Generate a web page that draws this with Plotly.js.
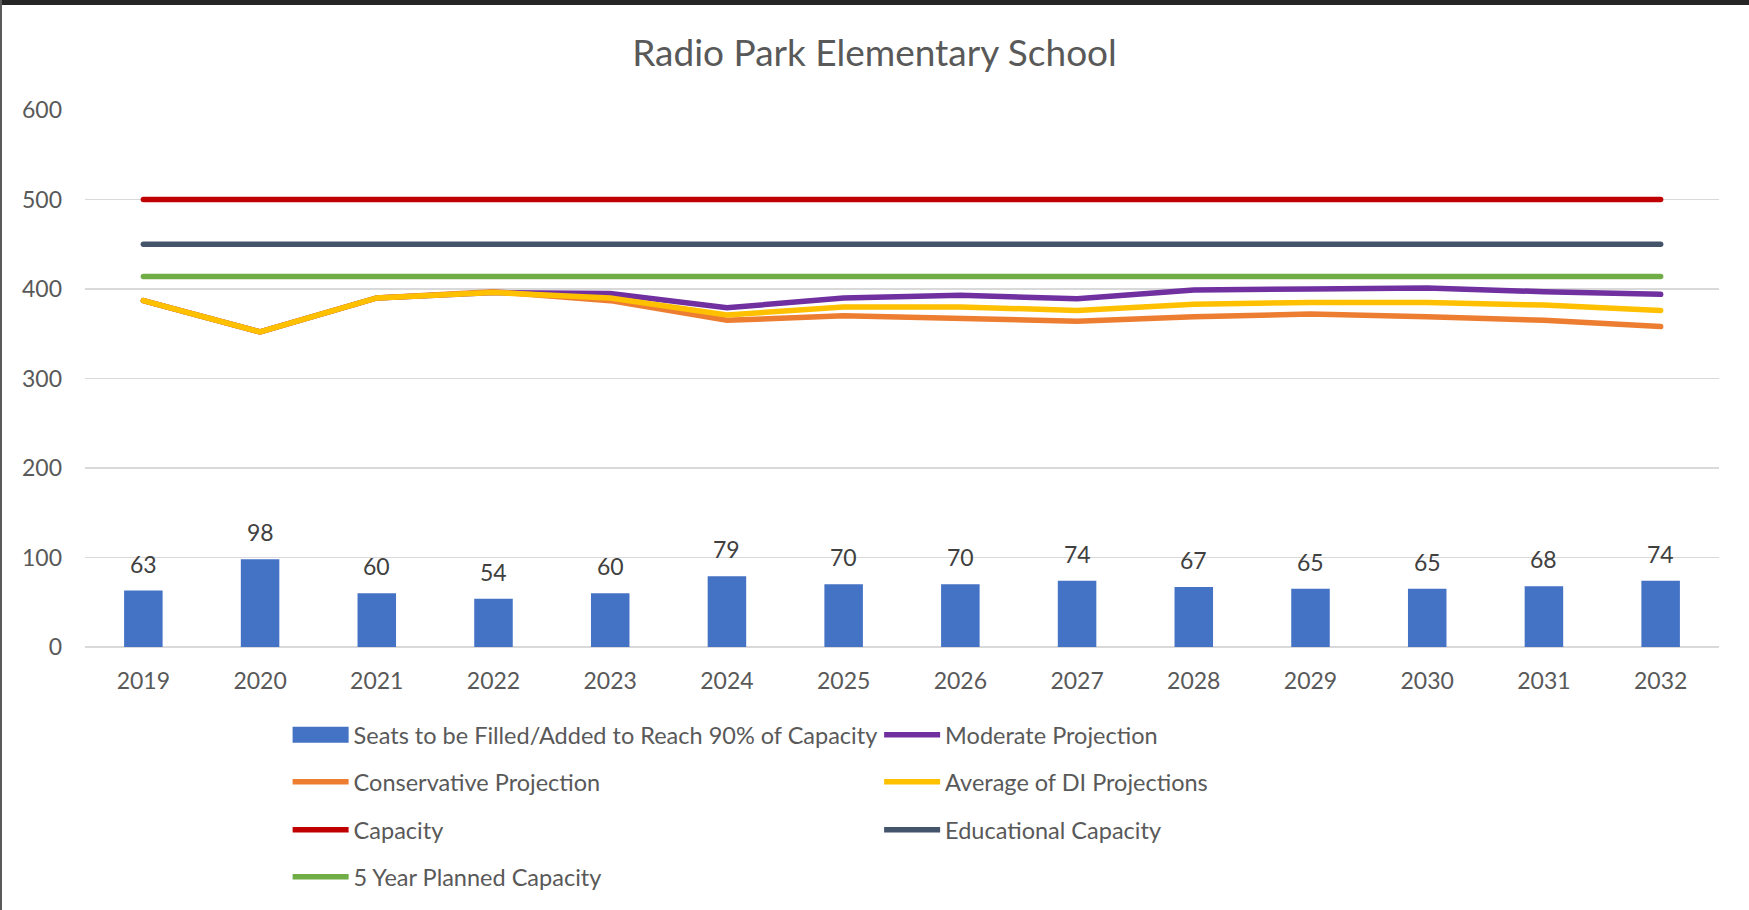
<!DOCTYPE html>
<html>
<head>
<meta charset="utf-8">
<script src="https://cdn.plot.ly/plotly-3.0.1.min.js"></script>
<style>
  html, body { margin: 0; padding: 0; background: #ffffff; }
  #wrap { position: relative; width: 1749px; height: 910px; overflow: hidden; }
  #chart { width: 1749px; height: 910px; }
  #topband { position: absolute; left: 0; top: 0; width: 1749px; height: 5px; background: #262626; }
  #leftline { position: absolute; left: 0; top: 0; width: 2px; height: 910px; background: #5a5a5a; }
  #chart .scatterlayer .js-line { stroke-linecap: round; }
  #chart .legendpoints path { transform: translate(33px, 0px) scale(4.67, 1.33) !important; }
</style>
</head>
<body>
<div id="wrap">
  <div id="chart"></div>
  <div id="topband"></div>
  <div id="leftline"></div>
</div>
<script>
// ---- data ----
const years = ["2019","2020","2021","2022","2023","2024","2025","2026","2027","2028","2029","2030","2031","2032"];
const seatsToFill = [63, 98, 60, 54, 60, 79, 70, 70, 74, 67, 65, 65, 68, 74];
const moderateProjection = [387, 352, 390, 396, 395, 379, 390, 393, 389, 399, 400, 401, 397, 394];
const conservativeProjection = [387, 352, 390, 397, 387, 365, 370, 367, 364, 369, 372, 369, 365, 358];
const averageDIProjections = [387, 352, 390, 396, 390, 371, 380, 380, 376, 383, 385, 385, 382, 376];
const capacity = [500, 500, 500, 500, 500, 500, 500, 500, 500, 500, 500, 500, 500, 500];
const educationalCapacity = [450, 450, 450, 450, 450, 450, 450, 450, 450, 450, 450, 450, 450, 450];
const plannedCapacity5Yr = [414, 414, 414, 414, 414, 414, 414, 414, 414, 414, 414, 414, 414, 414];
const yTickValues = [0, 100, 200, 300, 400, 500, 600];

const FONT = "Lato, 'Open Sans', sans-serif";
const LW = 5.5;

function lineTrace(name, y, color, legendId) {
  return {
    type: "scatter", mode: "lines", name: name, x: years, y: y,
    line: { color: color, width: LW },
    legend: legendId, hoverinfo: "skip"
  };
}

const traces = [
  {
    type: "bar", name: "Seats to be Filled/Added to Reach 90% of Capacity",
    x: years, y: seatsToFill, marker: { color: "#4472C4" }, legend: "legend",
    hoverinfo: "skip"
  },
  lineTrace("Moderate Projection", moderateProjection, "#7030A0", "legend2"),
  lineTrace("Conservative Projection", conservativeProjection, "#ED7D31", "legend3"),
  lineTrace("Average of DI Projections", averageDIProjections, "#FFC000", "legend4"),
  lineTrace("Capacity", capacity, "#C00000", "legend5"),
  lineTrace("Educational Capacity", educationalCapacity, "#44546A", "legend6"),
  lineTrace("5 Year Planned Capacity", plannedCapacity5Yr, "#70AD47", "legend7")
];

// data labels above the bars (x given as the category index of each year)
const annotations = years.map((yr, i) => ({
  x: i, y: seatsToFill[i], xref: "x", yref: "y",
  text: String(seatsToFill[i]), showarrow: false,
  yanchor: "middle", yshift: 27,
  font: { family: FONT, size: 23, color: "#404040" }
}));

// legend placement (paper coords)
const colX = [0.124, 0.486];
const rowY = [-0.1618, -0.2491, -0.3383, -0.4257];
function legendAt(cx, ry) {
  return {
    x: colX[cx], y: rowY[ry], xanchor: "left", yanchor: "middle",
    orientation: "h", bgcolor: "rgba(0,0,0,0)", borderwidth: 0,
    itemwidth: 56, itemclick: false, itemdoubleclick: false,
    font: { family: FONT, size: 23.5, color: "#595959" }
  };
}

const layout = {
  width: 1749, height: 910,
  margin: { l: 85, r: 30, t: 110, b: 262 },
  paper_bgcolor: "#ffffff", plot_bgcolor: "#ffffff",
  font: { family: FONT, color: "#595959" },
  title: {
    text: "Radio Park Elementary School",
    font: { family: FONT, size: 37, color: "#595959" },
    x: 0.5, xref: "container", xanchor: "center",
    y: 1 - 53 / 910, yref: "container", yanchor: "middle"
  },
  bargap: 0.67,
  xaxis: {
    type: "category", categoryorder: "array", categoryarray: years,
    range: [-0.5, years.length - 0.5], autorange: false,
    showgrid: false, zeroline: false, showline: false, ticks: "",
    tickfont: { family: FONT, size: 23, color: "#595959" },
    ticklabelstandoff: 18, fixedrange: true
  },
  yaxis: {
    range: [0, 600], autorange: false, tickvals: yTickValues, ticktext: yTickValues.map(String),
    showgrid: true, gridcolor: "#d9d9d9", gridwidth: 1.5,
    zeroline: true, zerolinecolor: "#d9d9d9", zerolinewidth: 1.5,
    showline: false, ticks: "",
    tickfont: { family: FONT, size: 23, color: "#595959" },
    ticklabelstandoff: 22, fixedrange: true
  },
  annotations: annotations,
  legend: legendAt(0, 0),
  legend2: legendAt(1, 0),
  legend3: legendAt(0, 1),
  legend4: legendAt(1, 1),
  legend5: legendAt(0, 2),
  legend6: legendAt(1, 2),
  legend7: legendAt(0, 3),
  showlegend: true
};

Plotly.newPlot("chart", traces, layout, { displayModeBar: false, staticPlot: true });
</script>
</body>
</html>
